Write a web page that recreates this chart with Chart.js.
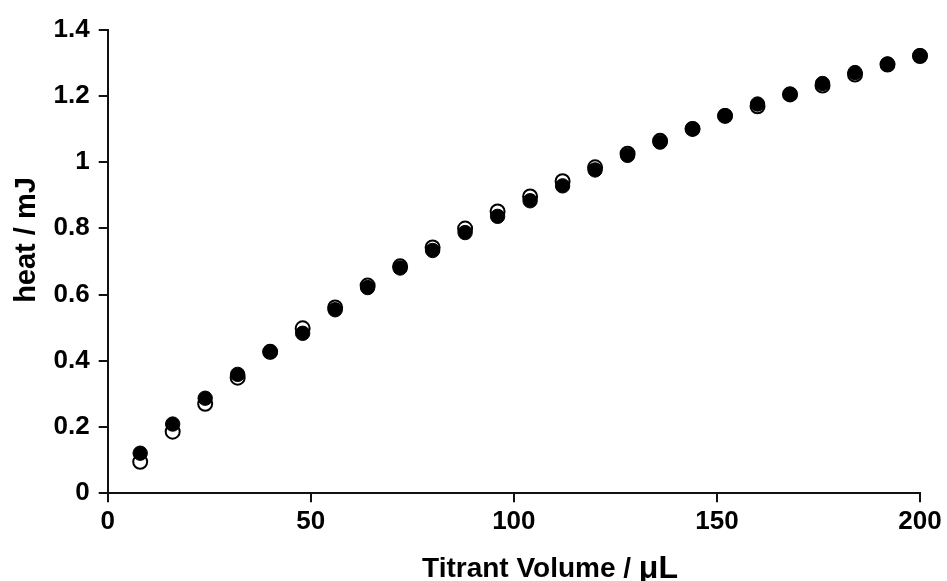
<!DOCTYPE html>
<html>
<head>
<meta charset="utf-8">
<script src="https://cdn.jsdelivr.net/npm/chart.js@4"></script>
<style>
  body { margin: 0; background: #fff; }
  canvas { display: block; }
</style>
</head>
<body>
<canvas id="heatChart" width="947" height="581"></canvas>
<script>
const volume = [8, 16, 24, 32, 40, 48, 56, 64, 72, 80, 88, 96, 104, 112, 120, 128, 136, 144, 152, 160, 168, 176, 184, 192, 200];
const heatOpen = [0.095, 0.186, 0.270, 0.349, 0.427, 0.498, 0.561, 0.627, 0.685, 0.742, 0.799, 0.851, 0.896, 0.942, 0.984, 1.025, 1.064, 1.100, 1.139, 1.168, 1.204, 1.231, 1.264, 1.294, 1.320];
const heatFilled = [0.121, 0.209, 0.287, 0.359, 0.427, 0.483, 0.554, 0.621, 0.680, 0.733, 0.787, 0.836, 0.883, 0.928, 0.976, 1.020, 1.060, 1.100, 1.140, 1.175, 1.205, 1.237, 1.270, 1.296, 1.321];
const xTicks = [0, 50, 100, 150, 200];
const yTicks = [0, 0.2, 0.4, 0.6, 0.8, 1, 1.2, 1.4];
const xTitle = "Titrant Volume / ";
const xTitleUnit = "μL";
const yTitle = "heat / mJ";

const font = "'Liberation Sans', Arial, sans-serif";

const toPoints = (ys) => volume.map((x, i) => ({ x: x, y: ys[i] }));

// axis titles drawn by hand so they can sit where the original has them
const axisTitles = {
    id: "axisTitles",
    afterDraw(chart) {
        const ctx = chart.ctx;
        ctx.save();
        ctx.fillStyle = "#000";
        ctx.textBaseline = "alphabetic";

        // x title, unit part a little bigger
        ctx.font = "bold 28px " + font;
        const w1 = ctx.measureText(xTitle).width;
        ctx.font = "bold 32px " + font;
        const w2 = ctx.measureText(xTitleUnit).width;
        let x = 550 - (w1 + w2) / 2;
        ctx.textAlign = "left";
        ctx.font = "bold 28px " + font;
        ctx.fillText(xTitle, x, 577);
        ctx.font = "bold 32px " + font;
        ctx.fillText(xTitleUnit, x + w1, 578);

        // y title
        ctx.translate(35, 240);
        ctx.rotate(-Math.PI / 2);
        ctx.textAlign = "center";
        ctx.font = "bold 29px " + font;
        ctx.fillText(yTitle, 0, 0);
        ctx.restore();
    }
};

const axisStyle = {
    display: true,
    drawOnChartArea: false,
    drawTicks: true,
    tickLength: 9,
    color: "#111",
    lineWidth: 2
};

const ctx = document.getElementById("heatChart").getContext("2d");
const chart = new Chart(ctx, {
    type: "scatter",
    data: {
        datasets: [{
            label: "filled",
            data: toPoints(heatFilled),
            pointRadius: 7.2,
            pointBorderWidth: 1,
            pointBackgroundColor: "#000",
            pointBorderColor: "#000",
            clip: false,
            order: 0
        }, {
            label: "open",
            data: toPoints(heatOpen),
            pointRadius: 7,
            pointBorderWidth: 2,
            pointBackgroundColor: "#fff",
            pointBorderColor: "#000",
            clip: false,
            order: 1
        }]
    },
    options: {
        responsive: false,
        animation: false,
        layout: {
            padding: { top: 29.5, right: 27, bottom: 0, left: 0 }
        },
        plugins: {
            legend: { display: false },
            tooltip: { enabled: false }
        },
        scales: {
            x: {
                type: "linear",
                min: 0,
                max: 200,
                grid: axisStyle,
                border: { display: true, color: "#111", width: 2 },
                afterBuildTicks: (scale) => { scale.ticks = xTicks.map(v => ({ value: v })); },
                afterFit: (scale) => { scale.height = 87.7; },
                ticks: {
                    color: "#000",
                    padding: 4,
                    font: { family: font, size: 26, weight: "bold" }
                }
            },
            y: {
                type: "linear",
                min: 0,
                max: 1.4,
                grid: axisStyle,
                border: { display: true, color: "#111", width: 2 },
                afterBuildTicks: (scale) => { scale.ticks = yTicks.map(v => ({ value: v })); },
                afterFit: (scale) => { scale.width = 107.7; },
                ticks: {
                    color: "#000",
                    padding: 9,
                    font: { family: font, size: 26, weight: "bold" },
                    callback: (v) => String(Math.round(v * 10) / 10)
                }
            }
        }
    },
    plugins: [axisTitles]
});
</script>
</body>
</html>
